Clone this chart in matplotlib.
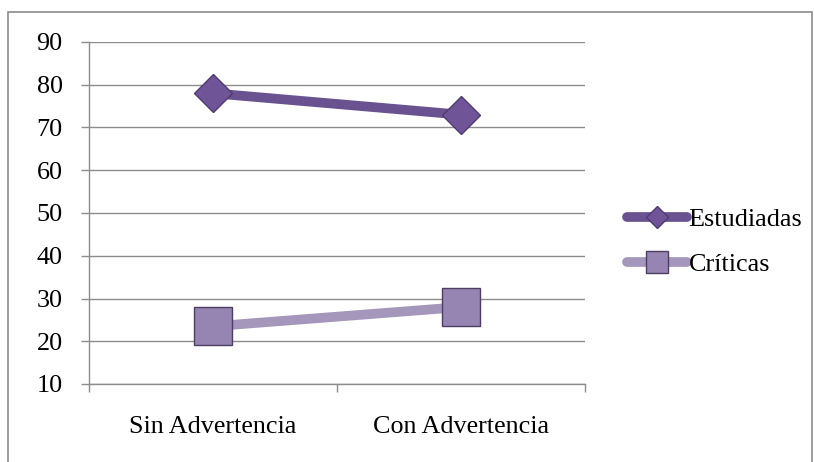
import matplotlib.pyplot as plt
from matplotlib.patches import Rectangle

plt.rcParams['font.family'] = ['Liberation Serif', 'DejaVu Serif']

categories = ["Sin Advertencia", "Con Advertencia"]
estudiadas = [78, 73]
criticas = [23.5, 28]
y_ticks = [10, 20, 30, 40, 50, 60, 70, 80, 90]

W, H = 814, 462
fs = 18.8
fig = plt.figure(figsize=(W / 100, H / 100), dpi=100)
ax = fig.add_axes([89 / W, (H - 384) / H, (585 - 89) / W, (384 - 42) / H])

# outer chart frame
fig.patches.append(Rectangle((8 / W, -0.05), (812 - 8) / W, (H - 12) / H + 0.05,
                             transform=fig.transFigure, fill=False,
                             edgecolor='#8c8c8c', linewidth=1.2))

x = [0.5, 1.5]
ax.plot(x, estudiadas, color='#6a5290', linewidth=7, solid_capstyle='round',
        marker='D', markersize=19, markerfacecolor='#6f5597',
        markeredgecolor='#4f3b72', markeredgewidth=1, label='Estudiadas', zorder=3)
ax.plot(x, criticas, color='#a597bb', linewidth=7, solid_capstyle='round',
        marker='s', markersize=27, markerfacecolor='#9684b2',
        markeredgecolor='#4c3f62', markeredgewidth=1, label='Críticas', zorder=3)

ax.set_xlim(0, 2)
ax.set_ylim(10, 90)
ax.set_yticks(y_ticks)
ax.set_xticks([0, 1, 2])
ax.set_xticklabels([])
ax.set_xticks(x, minor=True)
ax.set_xticklabels(categories, minor=True)
ax.tick_params(axis='x', which='minor', length=0, pad=23, labelsize=fs)
ax.tick_params(axis='x', which='major', length=6, color='#8c8c8c', width=1)
ax.tick_params(axis='y', length=6, color='#8c8c8c', width=1, pad=13, labelsize=fs)
ax.yaxis.grid(True, color='#8c8c8c', linewidth=1)
ax.set_axisbelow(True)
for s in ['top', 'right']:
    ax.spines[s].set_visible(False)
for s in ['left', 'bottom']:
    ax.spines[s].set_color('#8c8c8c')
    ax.spines[s].set_linewidth(1)

leg = ax.legend(loc='center left', bbox_to_anchor=(603 / W, (H - 242) / H),
                bbox_transform=fig.transFigure, frameon=False, fontsize=fs,
                handlelength=2.3, handletextpad=0.08, labelspacing=0.85,
                markerscale=0.6)

fig.savefig('out.png', dpi=100)
